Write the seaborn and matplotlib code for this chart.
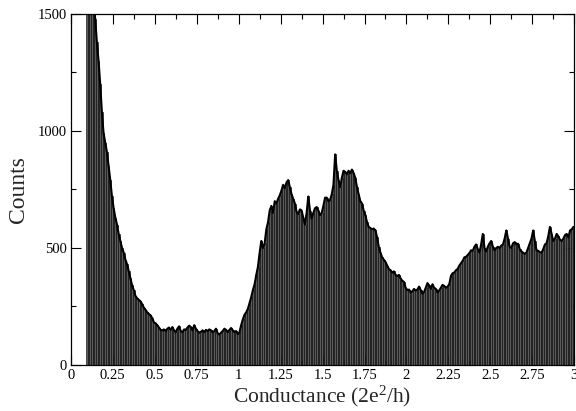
import matplotlib
matplotlib.use("Agg")
import matplotlib.pyplot as plt
import pandas as pd
import seaborn as sns
from matplotlib.ticker import MultipleLocator

# histogram of conductance, bin width 0.01, first bin starts at 0.09
bin_start = 0.09
bin_width = 0.01
counts = [
    2600, 2400, 2100, 1800, 1560, 1480, 1380, 1300, 1200, 1080, 990,
    950, 910, 850, 790, 720, 670, 630, 600, 560, 530,
    500, 480, 450, 430, 400, 370, 340, 320, 295, 285,
    278, 272, 260, 245, 236, 225, 218, 212, 200, 182,
    178, 170, 160, 150, 148, 152, 145, 155, 160, 150,
    162, 148, 140, 155, 165, 145, 140, 152, 150, 160,
    168, 162, 148, 170, 155, 145, 138, 142, 148, 140,
    150, 145, 152, 148, 140, 145, 155, 135, 130, 138,
    145, 155, 150, 140, 150, 158, 148, 140, 145, 132,
    140, 170, 195, 215, 225, 240, 265, 290, 320, 345,
    385, 420, 480, 530, 500, 520, 580, 610, 660, 680,
    650, 700, 690, 710, 725, 745, 770, 755, 780, 790,
    760, 730, 710, 690, 655, 645, 665, 660, 630, 600,
    650, 720, 660, 625, 650, 670, 675, 660, 640, 650,
    680, 715, 715, 700, 705, 730, 770, 900, 830, 790,
    760, 800, 830, 825, 815, 830, 820, 835, 820, 800,
    760, 730, 700, 690, 660, 640, 610, 590, 585, 580,
    583, 575, 545, 505, 480, 460, 450, 440, 425, 410,
    405, 395, 400, 385, 380, 385, 370, 360, 355, 330,
    320, 322, 310, 315, 325, 318, 322, 335, 320, 305,
    312, 330, 350, 340, 325, 345, 330, 325, 310, 318,
    330, 342, 338, 330, 335, 345, 380, 392, 395, 405,
    410, 425, 435, 445, 460, 462, 470, 478, 490, 488,
    505, 515, 495, 480, 515, 560, 500, 485, 505, 520,
    530, 505, 490, 500, 505, 500, 510, 515, 540, 575,
    540, 505, 500, 520, 525, 515, 518, 495, 485, 480,
    475, 480, 500, 520, 540, 575, 530, 490, 488, 482,
    480, 495, 515, 520, 550, 590, 560, 530, 540, 560,
    550, 535, 530, 540, 555, 560, 545, 575, 580, 590,
]
edges = [round(bin_start + bin_width * i, 3) for i in range(len(counts) + 1)]
df = pd.DataFrame({
    "g": [e + bin_width / 2 for e in edges[:-1]],
    "count": counts,
})

x_ticks = [0, 0.25, 0.5, 0.75, 1, 1.25, 1.5, 1.75, 2, 2.25, 2.5, 2.75, 3]
x_tick_labels = ["0", "0.25", "0.5", "0.75", "1", "1.25", "1.5", "1.75",
                 "2", "2.25", "2.5", "2.75", "3"]
y_ticks = [0, 500, 1000, 1500]

sns.set_style("ticks")
plt.rcParams["font.family"] = ["Liberation Serif", "DejaVu Serif"]
plt.rcParams["mathtext.fontset"] = "custom"
plt.rcParams["mathtext.rm"] = "Liberation Serif"
plt.rcParams["mathtext.it"] = "Liberation Serif"

fig = plt.figure(figsize=(5.76, 4.11), dpi=100)
ax = fig.add_axes([0.123, 0.112, 0.874, 0.854])

sns.histplot(data=df, x="g", weights="count", bins=edges, ax=ax,
             color="#5a5a5a", edgecolor="black", linewidth=0.4, alpha=1)
# jagged outline through the bar tops
sns.histplot(data=df, x="g", weights="count", bins=edges, ax=ax,
             element="poly", fill=False, color="black", linewidth=1.5)

ax.set_xlim(0, 3)
ax.set_ylim(0, 1500)
ax.set_xticks(x_ticks)
ax.set_xticklabels(x_tick_labels)
ax.set_yticks(y_ticks)
ax.xaxis.set_minor_locator(MultipleLocator(0.125))
ax.yaxis.set_minor_locator(MultipleLocator(250))
ax.tick_params(which="both", direction="in", top=True, right=True,
               labelsize=10.5, colors="black", width=0.8, pad=3)
ax.tick_params(which="major", length=7)
ax.tick_params(which="minor", length=3.5)
for s in ax.spines.values():
    s.set_visible(True)
    s.set_linewidth(0.9)
    s.set_color("black")

ax.set_xlabel("Conductance (2e$^2$/h)", fontsize=15.5, labelpad=1)
ax.set_ylabel("Counts", fontsize=17, labelpad=6)

fig.savefig("out.png", dpi=100)
